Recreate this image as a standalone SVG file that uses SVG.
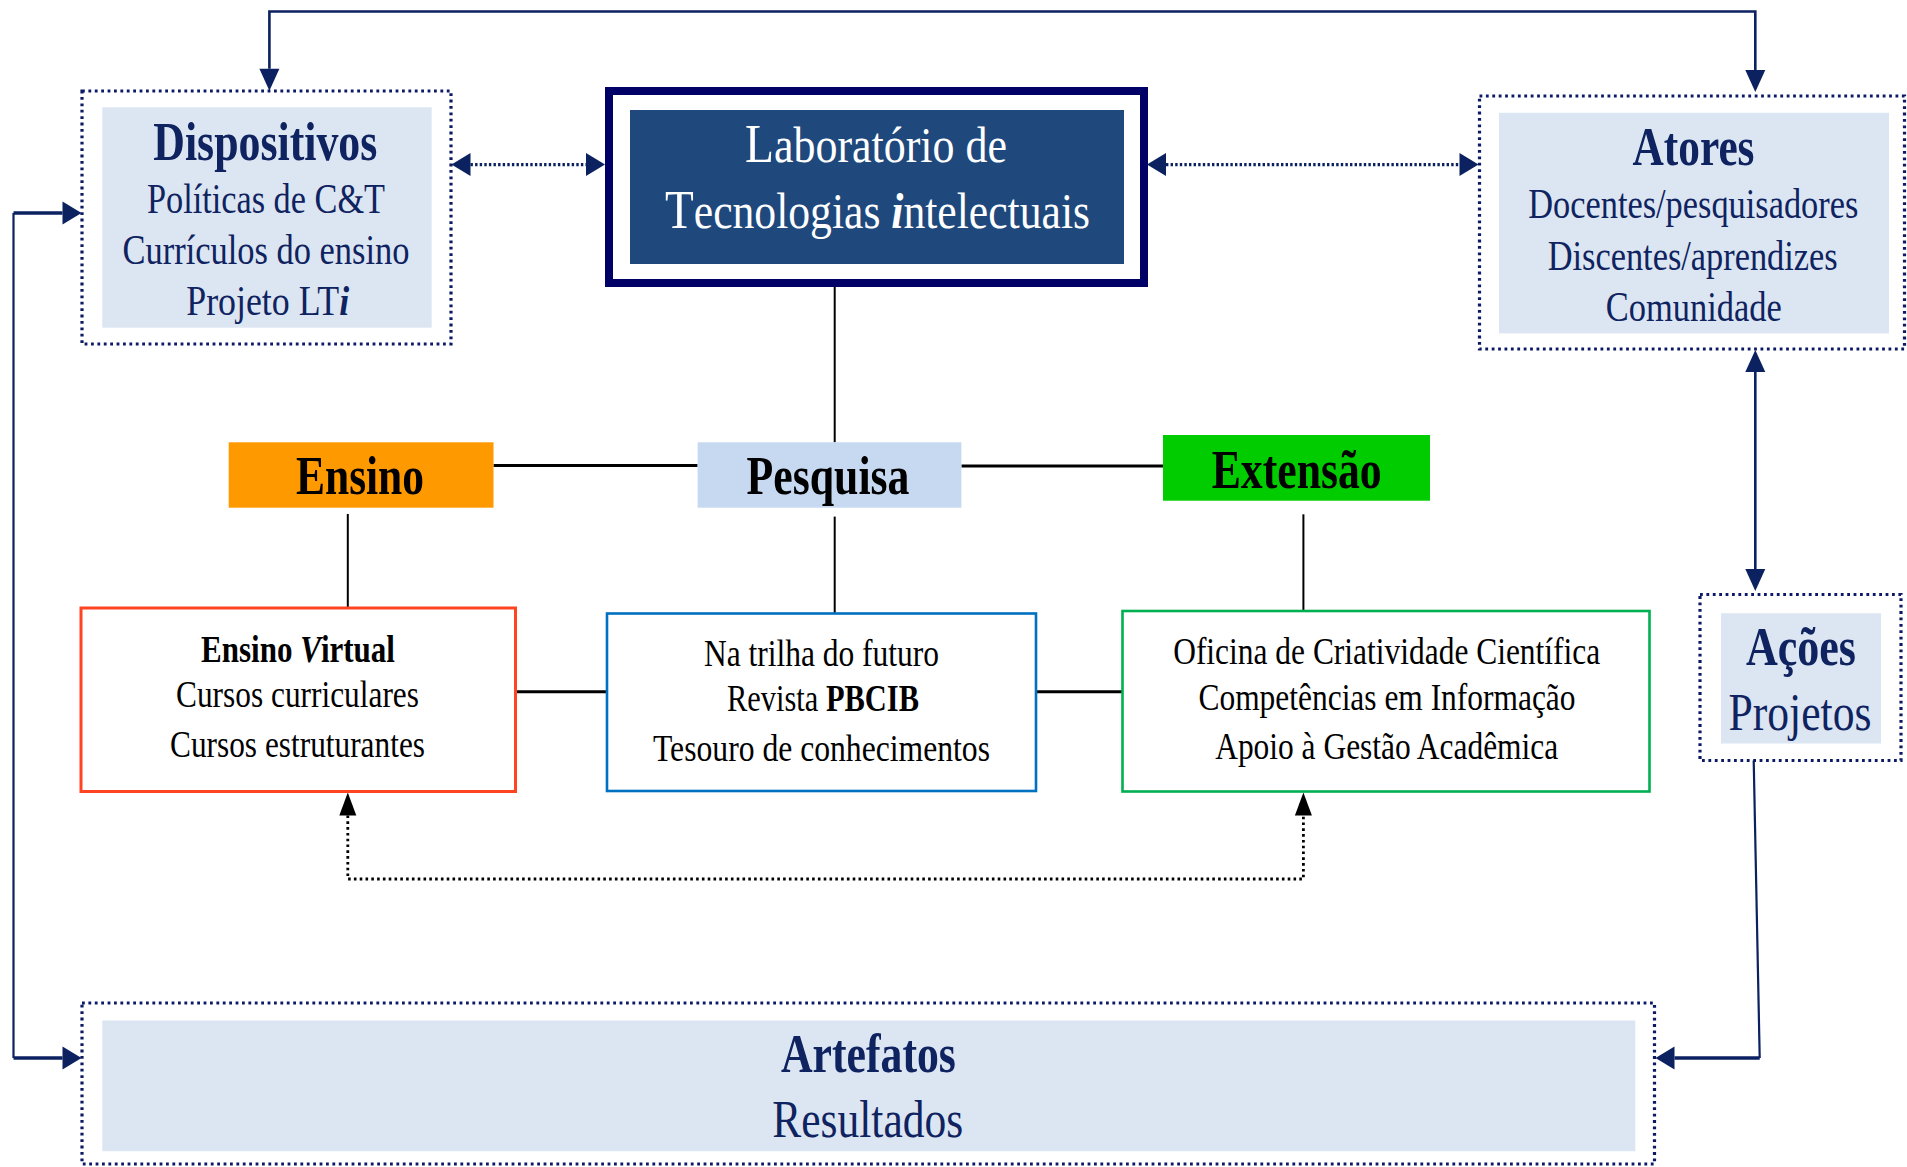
<svg xmlns="http://www.w3.org/2000/svg" width="1907" height="1167" viewBox="0 0 1907 1167">
<style>
text{font-family:"Liberation Serif","Times New Roman",serif;text-anchor:middle}
.nv{fill:#0F2360}
.wh{fill:#FFFFFF}
.bk{fill:#000000}
.b{font-weight:bold}
.bi{font-weight:bold;font-style:italic}
.dotbox{fill:none;stroke:#0C1A66;stroke-width:3.2;stroke-dasharray:2.8 3.6}
.light{fill:#DCE6F2}
.navyline{fill:none;stroke:#0B2160}
.dotnavy{fill:none;stroke:#0B2160;stroke-width:3.2;stroke-dasharray:2.4 2.2}
.blk{fill:none;stroke:#000000}
.dotblk{fill:none;stroke:#000000;stroke-width:2.8;stroke-dasharray:2.6 3.2}
</style>
<defs>
<marker id="ah" markerUnits="userSpaceOnUse" markerWidth="30" markerHeight="30" refX="0" refY="0" orient="auto-start-reverse" overflow="visible"><path d="M0,-11.5 L19,0 L0,11.5 Z" fill="#0B2160"/></marker>
<marker id="av" markerUnits="userSpaceOnUse" markerWidth="30" markerHeight="30" refX="0" refY="0" orient="auto-start-reverse" overflow="visible"><path d="M0,-10 L22,0 L0,10 Z" fill="#0B2160"/></marker>
<marker id="ab" markerUnits="userSpaceOnUse" markerWidth="30" markerHeight="30" refX="0" refY="0" orient="auto-start-reverse" overflow="visible"><path d="M0,-8.5 L23,0 L0,8.5 Z" fill="#000000"/></marker>
</defs>
<rect width="1907" height="1167" fill="#FFFFFF"/>

<g id="connectors">
<path class="navyline" stroke-width="2.6" d="M269.4,68.7 L269.4,11.5 L1755.3,11.5 L1755.3,70" marker-start="url(#av)" marker-end="url(#av)"/>
<path class="dotnavy" d="M470.5,164.6 L586,164.6" marker-start="url(#ah)" marker-end="url(#ah)"/>
<path class="dotnavy" d="M1166,164.6 L1459.5,164.6" marker-start="url(#ah)" marker-end="url(#ah)"/>
<path class="navyline" stroke-width="3.4" d="M62.5,213 L13.5,213" marker-start="url(#ah)"/>
<path class="navyline" stroke-width="2.2" d="M13.5,213 L13.5,1058"/>
<path class="navyline" stroke-width="3.4" d="M13.5,1058 L62.5,1058" marker-end="url(#ah)"/>
<path class="navyline" stroke-width="2.6" d="M1755.3,372 L1755.3,569" marker-start="url(#av)" marker-end="url(#av)"/>
<path class="navyline" stroke-width="2.2" d="M1753.7,760.4 L1759.7,1058"/>
<path class="navyline" stroke-width="3.4" d="M1759.7,1058 L1674.5,1058" marker-end="url(#ah)"/>
<path class="blk" stroke-width="2" d="M834.7,287 L834.7,442.3"/>
<path class="blk" stroke-width="3" d="M493.5,465.6 L697.6,465.6"/>
<path class="blk" stroke-width="3" d="M961.4,466 L1163,466"/>
<path class="blk" stroke-width="2" d="M347.8,514 L347.8,608"/>
<path class="blk" stroke-width="2" d="M834.7,516.6 L834.7,613.5"/>
<path class="blk" stroke-width="2" d="M1303.4,514.3 L1303.4,611"/>
<path class="blk" stroke-width="3" d="M515.6,691.8 L607,691.8"/>
<path class="blk" stroke-width="3" d="M1036,691.8 L1122.5,691.8"/>
<path class="dotblk" d="M347.8,815.5 L347.8,879 L1303.4,879 L1303.4,815.5" marker-start="url(#ab)" marker-end="url(#ab)"/>
</g>

<g id="dispositivos">
<rect class="dotbox" x="82" y="91" width="369" height="253"/>
<rect class="light" x="102.3" y="107.3" width="329.4" height="220.4"/>
<text class="nv b" x="265.3" y="160" font-size="54" textLength="224" lengthAdjust="spacingAndGlyphs">Dispositivos</text>
<text class="nv" x="266" y="212.7" font-size="42" textLength="238" lengthAdjust="spacingAndGlyphs">Políticas de C&amp;T</text>
<text class="nv" x="266" y="264" font-size="42" textLength="287" lengthAdjust="spacingAndGlyphs">Currículos do ensino</text>
<text class="nv" x="267.7" y="315" font-size="42" textLength="163" lengthAdjust="spacingAndGlyphs">Projeto LT<tspan class="bi">i</tspan></text>
</g>

<g id="laboratorio">
<rect x="609" y="91" width="535" height="192" fill="#FFFFFF" stroke="#000066" stroke-width="8"/>
<rect x="630" y="110" width="494" height="154" fill="#1F497D"/>
<text class="wh" x="876" y="161.7" font-size="50" textLength="262" lengthAdjust="spacingAndGlyphs"><tspan font-size="54">L</tspan>aboratório de</text>
<text class="wh" x="877.5" y="228.3" font-size="50" textLength="425" lengthAdjust="spacingAndGlyphs"><tspan font-size="54">T</tspan>ecnologias <tspan class="bi">i</tspan>ntelectuais</text>
</g>

<g id="atores">
<rect class="dotbox" x="1479.5" y="96" width="425" height="253"/>
<rect class="light" x="1499" y="112.8" width="390" height="220.6"/>
<text class="nv b" x="1693.5" y="165" font-size="54" textLength="122" lengthAdjust="spacingAndGlyphs">Atores</text>
<text class="nv" x="1693.3" y="218.3" font-size="42" textLength="330" lengthAdjust="spacingAndGlyphs">Docentes/pesquisadores</text>
<text class="nv" x="1692.7" y="270" font-size="42" textLength="290" lengthAdjust="spacingAndGlyphs">Discentes/aprendizes</text>
<text class="nv" x="1693.8" y="321" font-size="42" textLength="176" lengthAdjust="spacingAndGlyphs">Comunidade</text>
</g>

<g id="ensino">
<rect x="228.7" y="442.3" width="264.8" height="65.4" fill="#FF9900"/>
<text class="bk b" x="360" y="494" font-size="54" textLength="128" lengthAdjust="spacingAndGlyphs">Ensino</text>
</g>

<g id="pesquisa">
<rect x="697.6" y="442.3" width="263.8" height="65.4" fill="#C6D9F1"/>
<text class="bk b" x="828" y="494" font-size="54" textLength="163" lengthAdjust="spacingAndGlyphs">Pesquisa</text>
</g>

<g id="extensao">
<rect x="1163" y="435" width="267" height="65.7" fill="#00CC00"/>
<text class="bk b" x="1296.7" y="487.7" font-size="54" textLength="170" lengthAdjust="spacingAndGlyphs">Extensão</text>
</g>

<g id="ensino-virtual">
<rect x="81" y="608" width="434.5" height="183.5" fill="#FFFFFF" stroke="#FF4422" stroke-width="3"/>
<text class="bk b" x="298" y="661.7" font-size="38" textLength="194" lengthAdjust="spacingAndGlyphs">Ensino <tspan class="bi">V</tspan>irtual</text>
<text class="bk" x="297.5" y="707" font-size="38" textLength="243" lengthAdjust="spacingAndGlyphs">Cursos curriculares</text>
<text class="bk" x="297.5" y="756.7" font-size="38" textLength="255" lengthAdjust="spacingAndGlyphs">Cursos estruturantes</text>
</g>

<g id="na-trilha">
<rect x="607" y="613.5" width="429" height="177.5" fill="#FFFFFF" stroke="#0070C0" stroke-width="2.6"/>
<text class="bk" x="821.5" y="665.7" font-size="38" textLength="235" lengthAdjust="spacingAndGlyphs">Na trilha do futuro</text>
<text class="bk" x="823" y="711" font-size="38" textLength="192" lengthAdjust="spacingAndGlyphs">Revista <tspan class="b">PBCIB</tspan></text>
<text class="bk" x="821.5" y="760.7" font-size="38" textLength="337" lengthAdjust="spacingAndGlyphs">Tesouro de conhecimentos</text>
</g>

<g id="oficina">
<rect x="1122.5" y="611" width="527" height="180.5" fill="#FFFFFF" stroke="#00B050" stroke-width="2.6"/>
<text class="bk" x="1386.7" y="664.3" font-size="38" textLength="427" lengthAdjust="spacingAndGlyphs">Oficina de Criatividade Científica</text>
<text class="bk" x="1387" y="710" font-size="38" textLength="377" lengthAdjust="spacingAndGlyphs">Competências em Informação</text>
<text class="bk" x="1386.7" y="759" font-size="38" textLength="343" lengthAdjust="spacingAndGlyphs">Apoio à Gestão Acadêmica</text>
</g>

<g id="acoes">
<rect class="dotbox" x="1700" y="594.5" width="201" height="166"/>
<rect class="light" x="1721" y="613.2" width="160" height="130.3"/>
<text class="nv b" x="1801" y="665.4" font-size="54" textLength="110" lengthAdjust="spacingAndGlyphs">Ações</text>
<text class="nv" x="1800" y="729.8" font-size="52" textLength="143" lengthAdjust="spacingAndGlyphs">Projetos</text>
</g>

<g id="artefatos">
<rect class="dotbox" x="82" y="1003" width="1572.5" height="161"/>
<rect class="light" x="102.3" y="1020.5" width="1533" height="130.7"/>
<text class="nv b" x="868.4" y="1072" font-size="54" textLength="175" lengthAdjust="spacingAndGlyphs">Artefatos</text>
<text class="nv" x="867.7" y="1136.5" font-size="52" textLength="191" lengthAdjust="spacingAndGlyphs">Resultados</text>
</g>
</svg>
